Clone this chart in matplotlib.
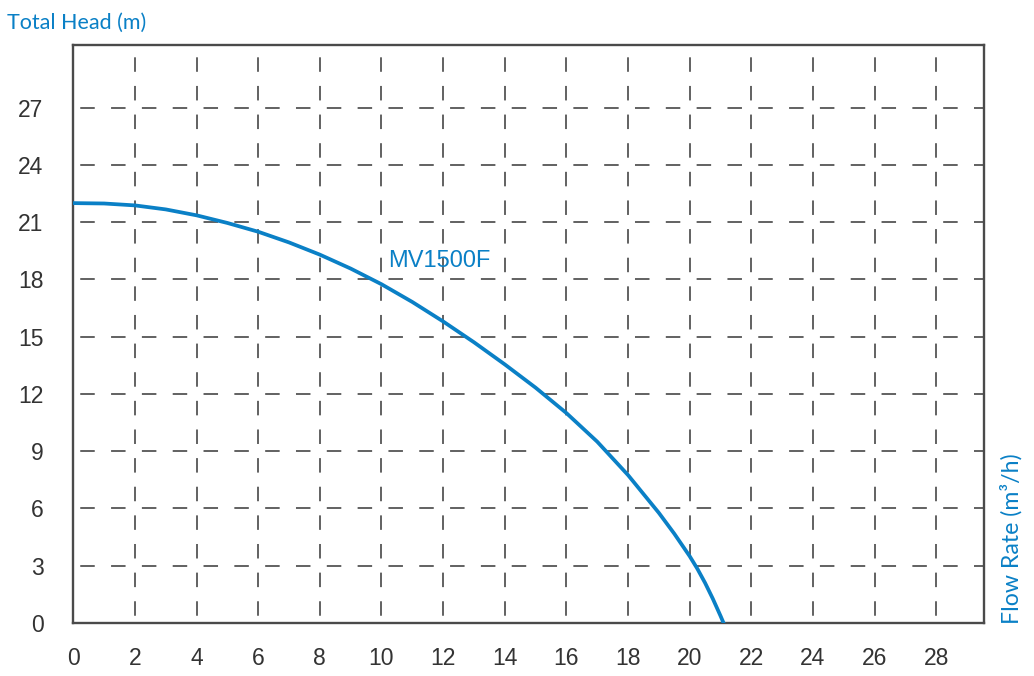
import matplotlib
matplotlib.use("Agg")
import matplotlib.pyplot as plt

plt.rcParams["lines.scale_dashes"] = False

# ---- data ----
flow = [0, 1, 2, 3, 4, 5, 6, 7, 8, 9, 10, 11, 12, 13, 14, 15, 16, 17, 18,
        19, 19.5, 20, 20.25, 20.5, 20.75, 21, 21.1]
head = [22.00, 21.98, 21.88, 21.67, 21.36, 20.96, 20.50, 19.94, 19.30, 18.57,
        17.75, 16.82, 15.80, 14.71, 13.55, 12.33, 11.00, 9.50, 7.75,
        5.77, 4.68, 3.50, 2.84, 2.10, 1.275, 0.375, 0.0]
series_label = "MV1500F"
x_ticks = list(range(0, 30, 2))
y_ticks = list(range(0, 30, 3))
x_title = "Flow Rate (m³/h)"
y_title = "Total Head (m)"

BLUE = "#0a80c6"
GRID = "#555555"

W, H, DPI = 10.34, 6.76, 100
fig = plt.figure(figsize=(W, H), dpi=DPI)
left, right = 73.3 / 1034, 984 / 1034
bottom, top = 53 / 676, (676 - 44.7) / 676
ax = fig.add_axes([left, bottom, right - left, top - bottom])

XMAX, YMAX = 29.55, 30.3
ax.set_xlim(0, XMAX)
ax.set_ylim(0, YMAX)

ax.plot(flow, head, color=BLUE, lw=2.7, solid_joinstyle="round", zorder=3)

ax.set_xticks(x_ticks)
ax.set_yticks(y_ticks)
ax.tick_params(axis="both", length=0, labelsize=16.5, labelcolor="#333333")
ax.tick_params(axis="x", pad=17)
ax.tick_params(axis="y", pad=21.5)
for lab in ax.get_xticklabels() + ax.get_yticklabels():
    lab.set_fontfamily("Liberation Sans")

# dashed grid with dashes centred on the intersections
ax_w_px = W * DPI * (right - left)
ax_h_px = H * DPI * (top - bottom)
px2pt = 72.0 / DPI
per_h = ax_w_px / XMAX * 1.0 * px2pt          # horizontal lines: half of x grid step
per_v = ax_h_px / YMAX * 1.5 * px2pt          # vertical lines: half of y grid step
dash = 14.5 * px2pt
ax.yaxis.grid(True, color=GRID, lw=1.3,
              linestyle=(per_h - dash / 2, (dash, per_h - dash)))
ax.xaxis.grid(True, color=GRID, lw=1.3,
              linestyle=(per_v - dash / 2, (dash, per_v - dash)))
ax.set_axisbelow(True)

for sp in ax.spines.values():
    sp.set_color("#4a4a4a")
    sp.set_linewidth(1.7)

ax.text(10.2, 18.67, series_label, color=BLUE, fontsize=17,
        family="Liberation Sans", ha="left", va="baseline")

fig.text(7 / 1034, 1 - 29.3 / 676, y_title, color=BLUE, fontsize=15.5,
         family="Lato", ha="left", va="baseline")
fig.text(1018.3 / 1034, 1 - 623.5 / 676, x_title, color=BLUE, fontsize=16.7,
         family="Lato", ha="left", va="baseline",
         rotation=90, rotation_mode="anchor")

fig.savefig("out.png", dpi=DPI)
